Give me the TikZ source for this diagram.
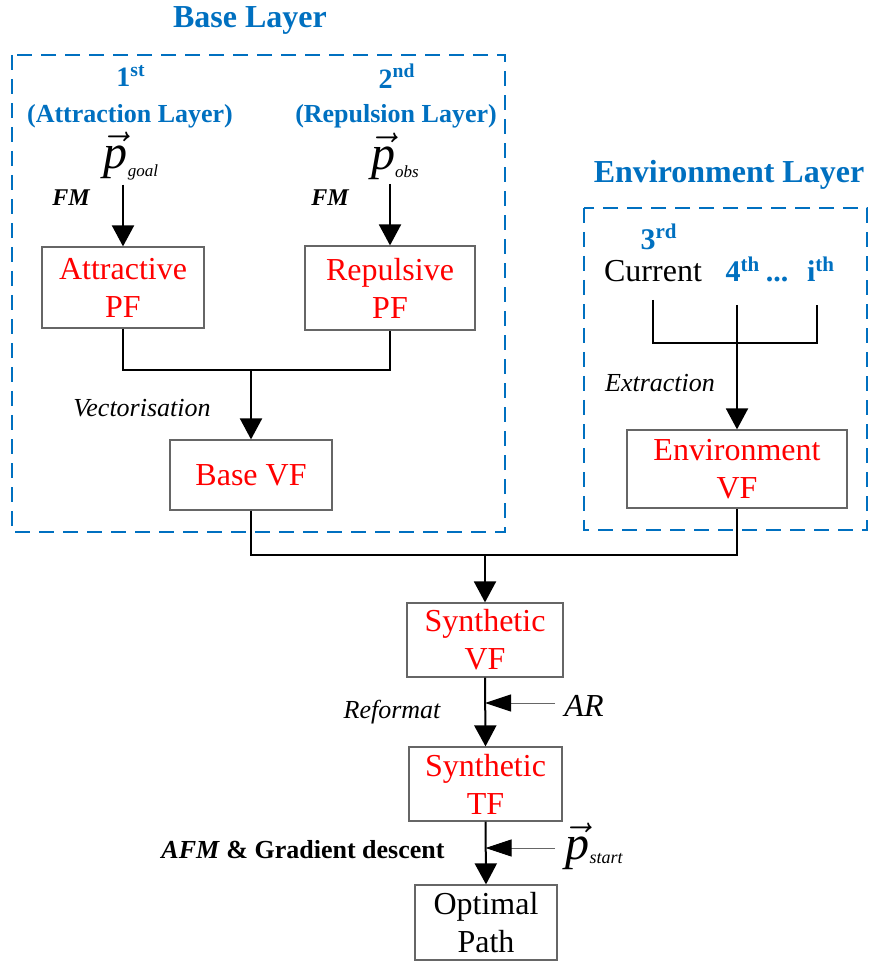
\documentclass[tikz,border=0pt]{standalone}
\usepackage{fontspec}
\setmainfont{Liberation Serif}
\usetikzlibrary{arrows.meta}
\definecolor{myblue}{RGB}{0,112,192}
\newcommand{\vp}[3]{{\fontsize{24}{24}\selectfont$\vec{\mbox{\itshape p}}$}\raisebox{#3}{\fontsize{#1}{#1}\selectfont\itshape #2}}
\begin{document}
\begin{tikzpicture}[x=0.5pt,y=-0.5pt,
  box/.style={draw=gray!80!black, line width=0.6pt, inner sep=0pt, align=center, text=red, font=\fontsize{16}{19}\selectfont},
  lbl/.style={inner sep=0pt, align=center},
  ttl/.style={lbl, text=myblue, font=\fontsize{16}{19}\selectfont\bfseries},
  ord/.style={lbl, text=myblue, font=\fontsize{14}{16}\selectfont\bfseries},
  ordb/.style={lbl, text=myblue, font=\fontsize{15}{17}\selectfont\bfseries},
  sub/.style={lbl, text=myblue, font=\fontsize{13}{15}\selectfont\bfseries},
  itl/.style={lbl, font=\fontsize{13}{15}\selectfont\itshape},
  line/.style={line width=1pt},
  arr/.style={line width=1pt, -{Triangle[length=10.5pt,width=11pt]}},
  sidearr/.style={line width=0.5pt, draw=black!60, -{Triangle[length=13pt,width=8.5pt,color=black]}},
  layer/.style={draw=myblue, line width=1pt, dash pattern=on 7.5pt off 4.5pt}
]
\useasboundingbox (0,0) rectangle (872,961);

% layer frames
\draw[layer] (12,55) rectangle (505,532);
\draw[layer] (584,208) rectangle (867,530);

% base layer
\node[ttl] (tbase) at (250,20) {Base Layer};
\node[ord] (o1) at (131,76) {1\textsuperscript{st}};
\node[sub] (al) at (130,116) {(Attraction Layer)};
\node[ord] (o2) at (397,76) {2\textsuperscript{nd}};
\node[sub] (rl) at (396,116) {(Repulsion Layer)};
\node[lbl] (pgoal) at (131,156) {\vp{8.5}{goal}{-4pt}};
\node[lbl] (pobs) at (395,156) {\vp{8.5}{obs}{-4pt}};
\node[lbl, font=\fontsize{12}{14}\selectfont\bfseries\itshape] (fm1) at (71,198) {FM};
\node[lbl, font=\fontsize{12}{14}\selectfont\bfseries\itshape] (fm2) at (330,198) {FM};
\node[box, minimum width=81pt, minimum height=40.5pt] (att) at (123,287.5) {Attractive\\PF};
\node[box, minimum width=85pt, minimum height=42pt] (rep) at (390,288) {Repulsive\\PF};
\node[itl] (vec) at (142,408) {Vectorisation};
\node[box, minimum width=81pt, minimum height=35pt] (base) at (251,475) {Base VF};

% environment layer
\node[ttl] (tenv) at (729,175) {Environment Layer};
\node[ordb] (o3) at (659,237) {3\textsuperscript{rd}};
\node[lbl, anchor=base, font=\fontsize{16}{19}\selectfont] (cur) at (653,282) {Current};
\node[ordb, anchor=base] (o4) at (743,282) {4\textsuperscript{th}};
\node[ordb, anchor=base] (dots) at (777,282) {...};
\node[ordb, anchor=base] (oi) at (821,282) {i\textsuperscript{th}};
\node[itl] (ext) at (660,383) {Extraction};
\node[box, minimum width=110pt, minimum height=39pt] (env) at (737,469) {Environment\\VF};

% lower chain
\node[box, minimum width=78pt, minimum height=37pt] (svf) at (485,640) {Synthetic\\VF};
\node[itl] (ref) at (392,712) {Reformat};
\node[lbl, font=\fontsize{16}{19}\selectfont\itshape] (ar) at (584,706) {AR};
\node[box, minimum width=76.5pt, minimum height=37pt] (stf) at (485.5,784) {Synthetic\\TF};
\node[lbl, font=\fontsize{13}{15}\selectfont\bfseries] (afm) at (303,850) {\textit{AFM} \& Gradient descent};
\node[lbl] (pstart) at (594,846) {\vp{9}{start}{-2pt}};
\node[box, text=black, minimum width=71pt, minimum height=37.5pt] (opt) at (486,922.5) {Optimal\\Path};

% coordinates
\coordinate (j1) at (251,370);
\coordinate (j2) at (485,555);
\coordinate (c1) at (653,300);
\coordinate (c2) at (737,305);
\coordinate (c3) at (817,305);
\coordinate (j3) at (737,343);
\coordinate (arE) at (555,703);
\coordinate (psE) at (555,848);

% connectors
\draw[arr] (att.north |- pgoal.south) ++(0,4) -- (att.north);
\draw[arr] (rep.north |- pobs.south) ++(0,4) -- (rep.north);
\draw[line] (att.south) |- (j1) -| (rep.south);
\draw[arr] (j1) -- (base.north);
\draw[line] (c1) |- (j3) -| (c3);
\draw[arr] (c2) -- (env.north);
\draw[line] (base.south) |- (j2) -| (env.south);
\draw[arr] (j2) -- (svf.north);
\draw[arr] (svf.south) -- (stf.north);
\draw[arr] (stf.south) -- (opt.north);
\draw[sidearr] (arE) -- (svf.south |- arE);
\draw[sidearr] (psE) -- (stf.south |- psE);
\end{tikzpicture}
\end{document}
